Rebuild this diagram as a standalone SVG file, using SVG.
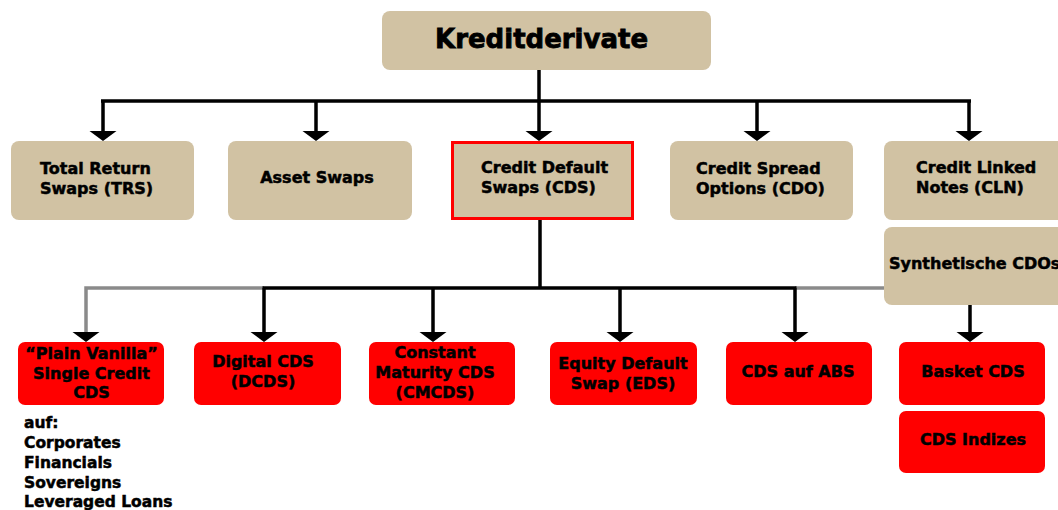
<svg xmlns="http://www.w3.org/2000/svg" width="1058" height="510" viewBox="0 0 1058 510">
<style>
.tan{fill:#D1C2A3}
.red{fill:#FF0000}
.t{font-family:"DejaVu Sans",sans-serif;font-weight:bold;font-size:16px;fill:#000;stroke:#000;stroke-width:0.5}
.c{text-anchor:middle}
.ln{stroke:#000;stroke-width:3.5;fill:none}
.gr{stroke:#8A8A8A;stroke-width:3.5;fill:none}
.ah{fill:#000}
</style>
<defs>
<path id="arr" d="M-13.5,-10 L13.5,-10 L0,0 Z"/>
</defs>
<g id="connectors">
<path class="ln" d="M539,70 V101 M101,101 H971 M103,101 V132 M316,101 V132 M539,101 V132 M757,101 V132 M969,101 V132"/>
<use href="#arr" class="ah" x="103" y="141"/>
<use href="#arr" class="ah" x="316" y="141"/>
<use href="#arr" class="ah" x="539" y="141"/>
<use href="#arr" class="ah" x="757" y="141"/>
<use href="#arr" class="ah" x="969" y="141"/>
<path class="gr" d="M86,333 V288 H264 M795,288 H900"/>
<path class="ln" d="M540,219 V288 M262.5,288 H796.5 M264,288 V333 M433,288 V333 M620,288 V333 M795,288 V333 M970,305 V333"/>
<use href="#arr" class="ah" x="86" y="342"/>
<use href="#arr" class="ah" x="264" y="342"/>
<use href="#arr" class="ah" x="433" y="342"/>
<use href="#arr" class="ah" x="620" y="342"/>
<use href="#arr" class="ah" x="795" y="342"/>
<use href="#arr" class="ah" x="970" y="342"/>
</g>
<g id="kreditderivate">
<rect class="tan" x="382" y="11" width="329" height="59" rx="8"/>
<text class="t" x="435" y="48" style="font-size:26px;stroke-width:0.8">Kreditderivate</text>
</g>
<g id="trs">
<rect class="tan" x="11" y="141" width="183" height="79" rx="8"/>
<text class="t" x="40" y="174">Total Return</text>
<text class="t" x="40" y="194">Swaps (TRS)</text>
</g>
<g id="asset-swaps">
<rect class="tan" x="228" y="141" width="184" height="79" rx="8"/>
<text class="t c" x="317" y="183">Asset Swaps</text>
</g>
<g id="cds">
<rect class="tan" x="452.5" y="142.5" width="180" height="76" stroke="#FF0000" stroke-width="3"/>
<text class="t" x="481" y="173">Credit Default</text>
<text class="t" x="481" y="193">Swaps (CDS)</text>
</g>
<g id="cdo">
<rect class="tan" x="670" y="141" width="183" height="79" rx="8"/>
<text class="t" x="696" y="174">Credit Spread</text>
<text class="t" x="696" y="194">Options (CDO)</text>
</g>
<g id="cln">
<rect class="tan" x="884" y="141" width="200" height="79" rx="8"/>
<text class="t" x="916" y="173">Credit Linked</text>
<text class="t" x="916" y="193">Notes (CLN)</text>
</g>
<g id="synthetische-cdos">
<rect class="tan" x="884" y="227" width="200" height="78" rx="8"/>
<text class="t" x="889" y="269">Synthetische CDOs</text>
</g>
<g id="plain-vanilla">
<rect class="red" x="18" y="342" width="146" height="63" rx="7"/>
<text class="t c" x="91.5" y="359">“Plain Vanilla”</text>
<text class="t c" x="91.5" y="379">Single Credit</text>
<text class="t c" x="91.5" y="398">CDS</text>
</g>
<g id="digital-cds">
<rect class="red" x="194" y="342" width="147" height="63" rx="7"/>
<text class="t c" x="263" y="367">Digital CDS</text>
<text class="t c" x="263" y="387">(DCDS)</text>
</g>
<g id="cmcds">
<rect class="red" x="369" y="342" width="146" height="63" rx="7"/>
<text class="t c" x="435" y="358">Constant</text>
<text class="t c" x="435" y="378">Maturity CDS</text>
<text class="t c" x="435" y="398">(CMCDS)</text>
</g>
<g id="eds">
<rect class="red" x="550" y="342" width="147" height="63" rx="7"/>
<text class="t c" x="623" y="369">Equity Default</text>
<text class="t c" x="623" y="389">Swap (EDS)</text>
</g>
<g id="cds-abs">
<rect class="red" x="726" y="342" width="146" height="63" rx="7"/>
<text class="t c" x="798" y="377">CDS auf ABS</text>
</g>
<g id="basket-cds">
<rect class="red" x="899" y="342" width="146" height="63" rx="7"/>
<text class="t c" x="973" y="377">Basket CDS</text>
</g>
<g id="cds-indizes">
<rect class="red" x="899" y="411" width="146" height="62" rx="7"/>
<text class="t c" x="973" y="445">CDS Indizes</text>
</g>
<g id="underlyings">
<text class="t" x="24" y="428" style="font-size:15.5px">auf:</text>
<text class="t" x="24" y="448" style="font-size:15.5px">Corporates</text>
<text class="t" x="24" y="468" style="font-size:15.5px">Financials</text>
<text class="t" x="24" y="488" style="font-size:15.5px">Sovereigns</text>
<text class="t" x="24" y="507" style="font-size:15.5px">Leveraged Loans</text>
</g>
</svg>
